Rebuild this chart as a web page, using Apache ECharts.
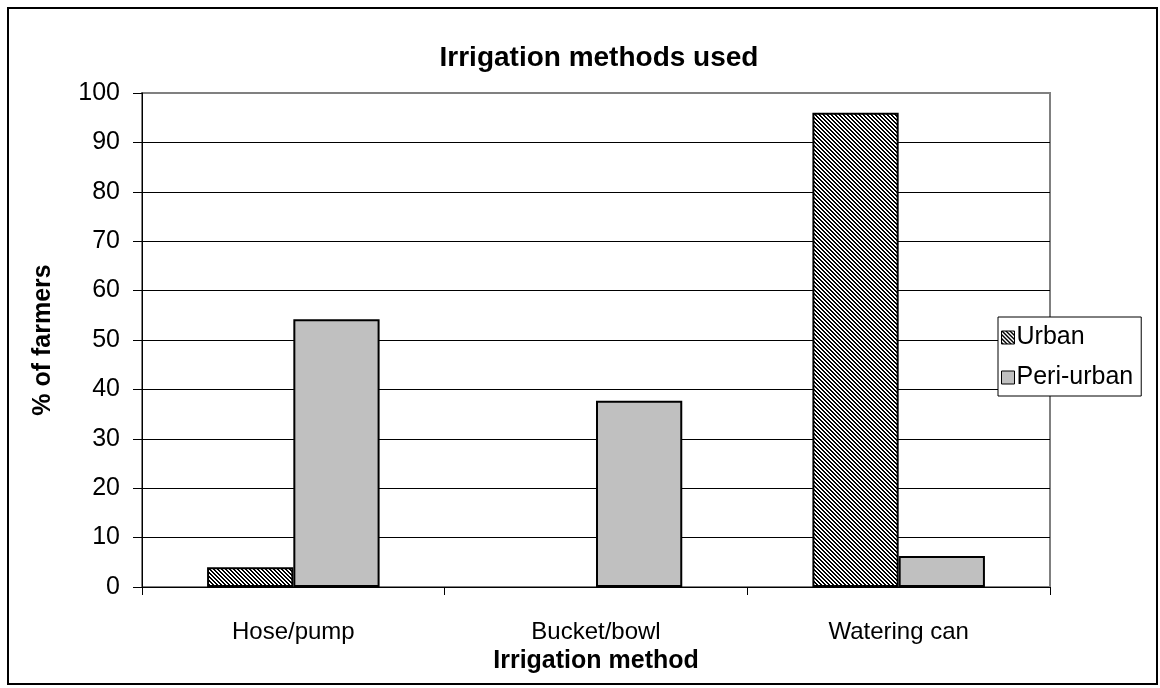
<!DOCTYPE html>
<html>
<head>
<meta charset="utf-8">
<script src="https://cdn.jsdelivr.net/npm/echarts@6/dist/echarts.min.js"></script>
<style>
  html, body { margin: 0; padding: 0; background: #fff; }
  #chart { width: 1160px; height: 688px; }
</style>
</head>
<body>
<div id="chart"></div>
<script>
  // data
  var categories = ['Hose/pump', 'Bucket/bowl', 'Watering can'];
  var urban = [4, 0, 96];
  var periUrban = [54.2, 37.7, 6.3];
  var seriesNames = ['Urban', 'Peri-urban'];

  // diagonal hatch fill used for "Urban"
  function hatch() {
    var c = document.createElement('canvas');
    c.width = 4; c.height = 4;
    var ctx = c.getContext('2d');
    ctx.fillStyle = '#fff';
    ctx.fillRect(0, 0, 4, 4);
    ctx.fillStyle = '#000';
    for (var y = 0; y < 4; y++)
      for (var x = 0; x < 4; x++) {
        var k = ((x - y) % 4 + 4) % 4;
        if (k === 0 || k === 1) ctx.fillRect(x, y, 1, 1);
      }
    return c;
  }

  // zero values draw no outline
  function barData(values) {
    return values.map(function (v) {
      return v === 0 ? { value: v, itemStyle: { borderWidth: 0 } } : v;
    });
  }

  var font = '"Liberation Sans", Arial, sans-serif';
  var gridColors = [];
  for (var i = 0; i < 10; i++) gridColors.push('#000');
  gridColors.push('#808080');

  var chart = echarts.init(document.getElementById('chart'));
  var option = {
    animation: false,
    backgroundColor: '#fff',
    textStyle: { fontFamily: font, color: '#000' },
    title: {
      text: 'Irrigation methods used',
      left: 594,
      textAlign: 'center',
      top: 39,
      textStyle: { fontFamily: font, fontSize: 28, fontWeight: 'bold', color: '#000' }
    },
    graphic: [{
      type: 'rect',
      shape: { x: 8, y: 8, width: 1149, height: 676 },
      style: { fill: null, stroke: '#000', lineWidth: 2 },
      z: 100
    }],
    grid: {
      left: 142, right: 110, top: 93, bottom: 101,
      show: true, borderColor: '#808080', borderWidth: 2, backgroundColor: '#fff'
    },
    legend: {
      data: seriesNames,
      orient: 'vertical',
      left: 998, top: 317,
      backgroundColor: '#fff',
      borderColor: '#000', borderWidth: 1,
      padding: [8, 8, 6, 3],
      itemGap: 15,
      itemWidth: 13, itemHeight: 13,
      icon: 'rect',
      itemStyle: { borderColor: '#000', borderWidth: 1 },
      textStyle: { fontFamily: font, fontSize: 25, color: '#000', padding: [0, 0, 0, -3] },
      z: 10
    },
    xAxis: {
      type: 'category',
      data: categories,
      name: 'Irrigation method',
      nameLocation: 'middle',
      nameGap: 50,
      nameTextStyle: { fontFamily: font, fontSize: 25, fontWeight: 'bold', color: '#000' },
      axisLine: { lineStyle: { color: '#000', width: 1 } },
      axisTick: { show: true, length: 8, lineStyle: { color: '#000' } },
      axisLabel: { fontFamily: font, fontSize: 24, color: '#000', margin: 33 }
    },
    yAxis: {
      type: 'value',
      min: 0, max: 100, interval: 10,
      name: '% of farmers',
      nameLocation: 'middle',
      nameGap: 86,
      nameTextStyle: { fontFamily: font, fontSize: 25, fontWeight: 'bold', color: '#000' },
      axisLine: { show: true, lineStyle: { color: '#000', width: 1 } },
      axisTick: { show: true, length: 9, lineStyle: { color: '#000' } },
      axisLabel: { fontFamily: font, fontSize: 25, color: '#000', margin: 22 },
      splitLine: { show: true, lineStyle: { color: gridColors, width: 1 } }
    },
    series: [{
      name: seriesNames[0],
      type: 'bar',
      data: barData(urban),
      barGap: '0%',
      barCategoryGap: '43%',
      itemStyle: {
        color: { image: hatch(), repeat: 'repeat' },
        borderColor: '#000', borderWidth: 2
      }
    }, {
      name: seriesNames[1],
      type: 'bar',
      data: barData(periUrban),
      barGap: '0%',
      barCategoryGap: '43%',
      itemStyle: { color: '#c0c0c0', borderColor: '#000', borderWidth: 2 }
    }]
  };
  chart.setOption(option);
</script>
</body>
</html>
